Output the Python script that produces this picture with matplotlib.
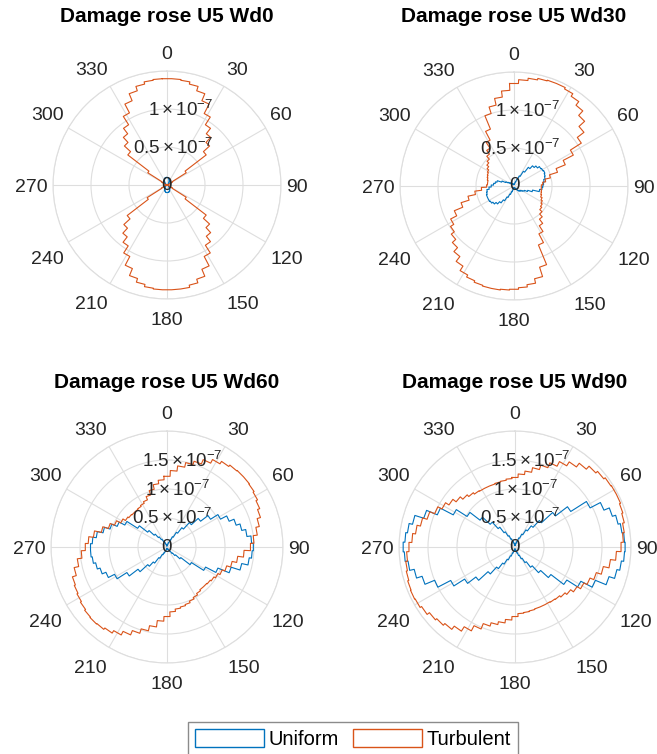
import numpy as np
import matplotlib
matplotlib.use('Agg')
import matplotlib.pyplot as plt
from matplotlib.patches import Patch
from matplotlib.transforms import offset_copy

plt.rcParams['font.family'] = ['Liberation Sans', 'DejaVu Sans']
plt.rcParams['mathtext.fontset'] = 'custom'
plt.rcParams['mathtext.rm'] = 'Liberation Sans'
plt.rcParams['mathtext.it'] = 'Liberation Sans:italic'

# bin centres every 5 deg, values in 1e-8
BIN_DEG = 5
titles = ['Damage rose U5 Wd0', 'Damage rose U5 Wd30',
          'Damage rose U5 Wd60', 'Damage rose U5 Wd90']
series_names = ['Uniform', 'Turbulent']
theta_ticks = list(range(0, 360, 30))

wd0_uniform = [1.0, 1.0, 0.95, 0.9, 0.8, 0.7, 0.6, 0.5, 0.4, 0.3, 0.25, 0.2, 0.15, 0.1, 0.08, 0.05, 0.03, 0.02,
               0.02, 0.03, 0.05, 0.08, 0.1, 0.15, 0.2, 0.25, 0.3, 0.4, 0.5, 0.6, 0.7, 0.8, 0.9, 0.95, 1.0, 1.0,
               1.0, 1.0, 0.95, 0.9, 0.8, 0.7, 0.6, 0.5, 0.4, 0.3, 0.25, 0.2, 0.15, 0.1, 0.08, 0.05, 0.03, 0.02,
               0.02, 0.03, 0.05, 0.08, 0.1, 0.15, 0.2, 0.25, 0.3, 0.4, 0.5, 0.6, 0.7, 0.8, 0.9, 0.95, 1.0, 1.0]
wd0_turbulent = [14.0, 14.0, 13.9, 13.6, 13.0, 12.0, 10.6, 9.4, 8.5, 7.6, 6.5, 3.0, 0.8, 0.4, 0.2, 0.15, 0.1, 0.05,
                 0.05, 0.05, 0.1, 0.15, 0.2, 0.4, 0.8, 3.0, 6.5, 7.6, 8.5, 9.4, 10.6, 12.0, 13.0, 13.5, 13.8, 13.8,
                 13.8, 13.8, 13.7, 13.4, 12.9, 11.9, 10.6, 9.5, 8.6, 7.7, 6.6, 3.1, 0.8, 0.4, 0.2, 0.15, 0.1, 0.05,
                 0.05, 0.05, 0.1, 0.15, 0.2, 0.4, 0.8, 3.0, 6.5, 7.6, 8.5, 9.4, 10.7, 12.0, 13.0, 13.6, 13.9, 14.0]

wd30_uniform = [0.2, 0.25, 0.3, 0.4, 0.6, 1.0, 1.5, 2.3, 3.1, 3.6, 3.9, 4.2, 4.3, 4.4, 4.3, 4.2, 4.0, 3.9,
                3.8, 3.7, 3.4, 2.5, 1.9, 1.5, 1.3, 1.1, 1.0, 0.9, 0.7, 0.5, 0.4, 0.3, 0.25, 0.2, 0.2, 0.2,
                0.2, 0.25, 0.3, 0.5, 0.8, 1.2, 1.7, 2.3, 2.8, 3.2, 3.5, 3.7, 3.8, 3.8, 3.8, 3.7, 3.6, 3.3,
                3.0, 2.7, 2.5, 2.3, 1.7, 1.2, 0.9, 0.7, 0.6, 0.5, 0.4, 0.35, 0.3, 0.25, 0.2, 0.2, 0.2, 0.2]
wd30_turbulent = [13.5, 14.0, 14.3, 14.5, 14.6, 14.6, 14.4, 14.0, 13.4, 12.6, 11.6, 10.5, 8.8, 7.3, 6.0, 4.9, 4.2, 3.8,
                  3.6, 3.6, 3.65, 3.7, 3.8, 4.0, 4.2, 4.4, 4.6, 5.0, 5.5, 6.2, 7.1, 8.4, 11.2, 12.5, 13.1, 13.4,
                  13.6, 13.7, 13.8, 13.8, 13.7, 13.5, 13.2, 12.5, 11.7, 11.0, 10.4, 9.9, 9.4, 8.5, 7.3, 6.2, 5.2, 4.3,
                  3.6, 3.5, 3.5, 3.6, 3.7, 3.8, 3.95, 4.2, 4.5, 4.8, 5.3, 5.9, 6.8, 8.1, 10.0, 10.9, 11.8, 12.6]

wd60_uniform = [0.2, 0.25, 0.35, 0.5, 0.8, 1.3, 2.0, 3.0, 4.2, 5.7, 7.3, 8.9, 10.4, 11.6, 12.5, 13.2, 13.9, 14.6,
                14.9, 14.7, 14.3, 13.2, 11.6, 9.5, 7.5, 5.0, 3.0, 2.0, 1.4, 0.9, 0.6, 0.45, 0.35, 0.3, 0.25, 0.2,
                0.2, 0.25, 0.35, 0.5, 0.8, 1.1, 1.5, 2.3, 3.5, 4.5, 6.3, 8.2, 10.2, 11.4, 12.1, 12.6, 13.0, 13.2,
                13.2, 12.9, 12.3, 11.3, 10.3, 9.3, 8.2, 6.0, 4.2, 3.0, 2.2, 1.6, 1.1, 0.8, 0.5, 0.35, 0.25, 0.2]
wd60_turbulent = [12.2, 13.2, 14.1, 14.9, 15.5, 16.3, 17.0, 17.5, 17.8, 17.9, 17.9, 17.8, 17.6, 17.3, 16.9, 16.3, 15.7, 15.0,
                  14.4, 13.3, 12.3, 11.5, 10.8, 10.3, 9.9, 9.6, 9.4, 9.3, 9.3, 9.5, 9.8, 10.1, 10.4, 10.6, 10.8, 11.2,
                  12.0, 12.8, 13.9, 14.8, 15.6, 16.4, 17.1, 17.6, 17.9, 18.0, 17.9, 17.7, 17.5, 17.3, 17.1, 16.4, 15.6, 14.8,
                  14.1, 13.6, 12.8, 11.6, 10.6, 9.8, 9.0, 8.5, 8.3, 8.2, 8.2, 8.3, 8.5, 8.8, 9.4, 10.2, 11.0, 11.6]

wd90_uniform = [0.3, 0.35, 0.5, 0.7, 1.1, 1.7, 2.5, 3.5, 4.6, 6.2, 8.8, 11.4, 14.6, 16.6, 17.6, 18.2, 18.6, 18.9,
                19.0, 18.9, 18.5, 18.0, 17.0, 15.0, 12.8, 10.6, 7.8, 6.0, 4.4, 3.2, 2.3, 1.6, 1.1, 0.7, 0.5, 0.4,
                0.3, 0.35, 0.5, 0.7, 1.1, 1.7, 2.5, 3.5, 4.7, 6.3, 8.5, 10.3, 12.5, 15.0, 16.8, 17.8, 18.6, 19.1,
                19.3, 19.0, 18.7, 18.1, 16.5, 14.5, 12.0, 9.8, 7.6, 5.8, 4.3, 3.1, 2.2, 1.5, 1.0, 0.7, 0.5, 0.35]
wd90_turbulent = [12.0, 12.6, 13.2, 14.0, 14.8, 15.7, 16.6, 17.4, 18.2, 18.9, 19.3, 19.6, 19.7, 19.7, 19.5, 19.3, 19.0, 18.7,
                  18.3, 17.5, 16.6, 15.6, 14.7, 14.0, 13.4, 12.7, 12.1, 11.7, 11.4, 11.3, 11.2, 11.2, 11.2, 11.3, 11.4, 11.5,
                  12.0, 12.6, 13.2, 13.7, 14.3, 15.3, 16.3, 17.2, 17.9, 18.3, 18.6, 19.1, 19.4, 19.5, 19.4, 19.2, 19.0, 18.7,
                  18.3, 17.8, 17.3, 16.7, 15.9, 15.0, 14.2, 13.5, 12.8, 12.2, 11.8, 11.5, 11.4, 11.4, 11.4, 11.5, 11.6, 11.8]

panel_data = [(wd0_uniform, wd0_turbulent), (wd30_uniform, wd30_turbulent),
              (wd60_uniform, wd60_turbulent), (wd90_uniform, wd90_turbulent)]
rmax_list = [1.5e-7, 1.5e-7, 2e-7, 2e-7]
rtick_list = [[0, 5e-8, 1e-7], [0, 5e-8, 1e-7],
              [0, 5e-8, 1e-7, 1.5e-7], [0, 5e-8, 1e-7, 1.5e-7]]
rtick_text = {0: '0', 5e-8: r'$0.5\times10^{-7}$', 1e-7: r'$1\times10^{-7}$',
              1.5e-7: r'$1.5\times10^{-7}$'}

BLUE = '#0072BD'
ORANGE = '#D95319'
GRID = '#dedede'
TXT = '#262626'

W, H = 657, 754
centers = [(167, 185, 114), (514, 186, 114), (167, 547, 116), (515, 547, 116)]
title_y = [17, 17, 383, 383]
LABEL_FS = 14
DIGIT_H = 0.716 * LABEL_FS * 100 / 72


def stair_line(vals):
    vals = np.asarray(vals) * 1e-8
    n = len(vals)
    edges = np.deg2rad(np.arange(n + 1) * BIN_DEG - BIN_DEG / 2)
    th = np.repeat(edges, 2)[1:-1]
    r = np.repeat(vals, 2)
    th = np.append(th, edges[-1])
    r = np.append(r, vals[0])
    return th, r


fig = plt.figure(figsize=(W / 100, H / 100), dpi=100)

for i, (cx, cy, R) in enumerate(centers):
    ax = fig.add_axes([(cx - R) / W, 1 - (cy + R) / H, 2 * R / W, 2 * R / H],
                      projection='polar')
    ax.set_theta_zero_location('N')
    ax.set_theta_direction(-1)
    uni, tur = panel_data[i]
    th, r = stair_line(uni)
    ax.plot(th, r, color=BLUE, lw=0.8)
    th, r = stair_line(tur)
    ax.plot(th, r, color=ORANGE, lw=0.8)

    ax.set_rlim(0, rmax_list[i])
    ax.set_rticks(rtick_list[i][1:] + [rmax_list[i]])
    ax.set_yticklabels([])
    ax.set_thetagrids(theta_ticks, [''] * len(theta_ticks))
    ax.grid(True, color=GRID, lw=0.8)
    ax.spines['polar'].set_color(GRID)
    ax.spines['polar'].set_linewidth(0.8)

    # theta labels placed outward like MATLAB polaraxes
    for a in theta_ticks:
        s, c = np.sin(np.deg2rad(a)), np.cos(np.deg2rad(a))
        if abs(s) < 0.01:
            ha = 'center'
        else:
            ha = 'left' if s > 0 else 'right'
        dx = 5 * s
        if abs(c) < 0.01:
            dy = -DIGIT_H / 2
        elif c > 0:
            dy = 12 * c ** 0.5
        else:
            dy = -12 * (-c) ** 0.5 - DIGIT_H
        tr = offset_copy(ax.transData, fig=fig, x=dx, y=dy, units='dots')
        ax.text(np.deg2rad(a), rmax_list[i], str(a), transform=tr, ha=ha,
                va='baseline', fontsize=LABEL_FS, color=TXT)

    for rt in rtick_list[i]:
        ax.text(np.deg2rad(10), rt, rtick_text[rt], ha='center', va='center',
                fontsize=13.5, color=TXT)

    fig.text(cx / W, 1 - title_y[i] / H, titles[i], ha='center', va='center',
             fontsize=15, fontweight='bold')

handles = [Patch(facecolor='white', edgecolor=BLUE, lw=1),
           Patch(facecolor='white', edgecolor=ORANGE, lw=1)]
leg = fig.legend(handles, series_names, loc='upper left',
                 bbox_to_anchor=(188 / W, 1 - 722 / H), ncol=2, fontsize=14.5,
                 frameon=True, fancybox=False, edgecolor='#6e6e6e',
                 handlelength=3.4, handleheight=1.0, handletextpad=0.25,
                 columnspacing=0.7, borderpad=0.35, borderaxespad=0)
leg.get_frame().set_linewidth(1)

fig.savefig('out.png', dpi=100)
